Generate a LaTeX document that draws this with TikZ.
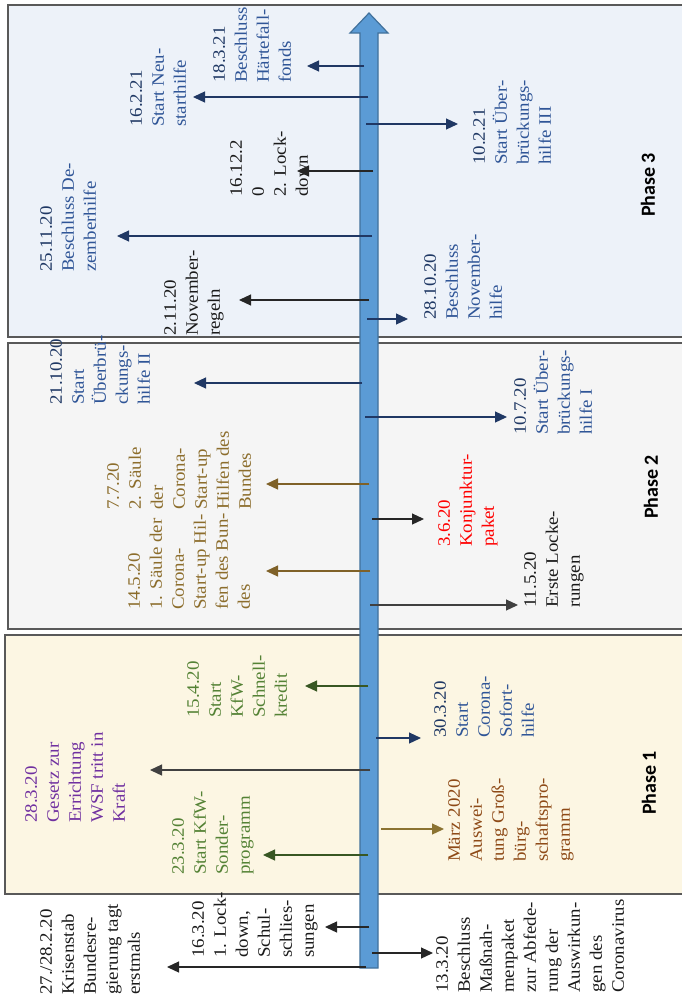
\documentclass[tikz,border=0pt]{standalone}
\usepackage{fontspec}
\setmainfont{Liberation Serif}[FakeStretch=1.08]
\newfontfamily\phasefont{Carlito}
\usetikzlibrary{arrows.meta}
\definecolor{navyarr}{HTML}{203864}
\definecolor{navydate}{HTML}{1F3864}
\definecolor{bluetxt}{HTML}{2F5597}
\definecolor{browntxt}{HTML}{8C6D2C}
\definecolor{brownarr}{HTML}{7F6128}
\definecolor{greentxt}{HTML}{548235}
\definecolor{greenarr}{HTML}{385723}
\definecolor{purpletxt}{HTML}{7030A0}
\definecolor{redtxt}{HTML}{FF0000}
\definecolor{orangetxt}{HTML}{8E4A17}
\definecolor{olivearr}{HTML}{8B7332}
\definecolor{blacktxt}{HTML}{1A1A1A}
\definecolor{blackarr}{HTML}{262626}
\definecolor{greyarr}{HTML}{404040}
\definecolor{axisfill}{HTML}{5B9BD5}
\definecolor{axisdraw}{HTML}{41719C}
\definecolor{boxdraw}{HTML}{595959}
\definecolor{fillthree}{HTML}{EDF2F9}
\definecolor{filltwo}{HTML}{F5F5F5}
\definecolor{fillone}{HTML}{FCF6E3}
\begin{document}
\begin{tikzpicture}[x=1pt,y=-1pt,
  lbl/.style={rotate=90, anchor=north west, inner sep=0pt, align=left,
    font=\fontsize{17.5}{22}\selectfont},
  phaselbl/.style={rotate=90, inner sep=0pt, font=\phasefont\bfseries\fontsize{20}{22}\selectfont, text=black},
  phasebox/.style={draw=boxdraw, line width=1.5pt},
  arr/.style={line width=1.2pt, -{Triangle[length=12pt,width=11pt]}},
  navyline/.style={arr, draw=navyarr, fill=navyarr},
  blackline/.style={arr, draw=blackarr, fill=blackarr},
  greyline/.style={arr, draw=greyarr, fill=greyarr},
  brownline/.style={arr, draw=brownarr, fill=brownarr},
  greenline/.style={arr, draw=greenarr, fill=greenarr},
  oliveline/.style={arr, draw=olivearr, fill=olivearr}]
\useasboundingbox (0,0) rectangle (682,999);

% phase boxes
\path[phasebox, fill=fillthree] (8,5) rectangle (700,337);
\path[phasebox, fill=filltwo] (8,343) rectangle (700,629);
\path[phasebox, fill=fillone] (5,635) rectangle (700,894);

% phase labels
\node[phaselbl] (ph3) at (648,185) {Phase 3};
\node[phaselbl] (ph2) at (651,487) {Phase 2};
\node[phaselbl] (ph1) at (649,783) {Phase 1};

% time axis
\draw[fill=axisfill, draw=axisdraw, line width=1.2pt, line join=miter]
  (360,968) -- (360,33) -- (350,33) -- (369,13) -- (388,33) -- (378,33) -- (378,968) -- cycle;

% text blocks
\node[lbl, text=bluetxt] (tA) at (213,83) {\textcolor{navydate}{18.3.21}\\Beschluss\\Härtefall-\\fonds};
\node[lbl, text=bluetxt] (tB) at (130,127) {\textcolor{navydate}{16.2.21}\\Start Neu-\\starthilfe};
\node[lbl, text=blacktxt] (tC) at (230,197) {16.12.2\\0\\2. Lock-\\down};
\node[lbl, text=bluetxt] (tD) at (40,272) {\textcolor{navydate}{25.11.20}\\Beschluss De-\\zemberhilfe};
\node[lbl, text=blacktxt] (tE) at (164,336) {2.11.20\\November-\\regeln};
\node[lbl, text=bluetxt] (tF) at (473,165) {\textcolor{navydate}{10.2.21}\\Start Über-\\brückungs-\\hilfe III};
\node[lbl, text=bluetxt] (tG) at (424,320) {\textcolor{navydate}{28.10.20}\\Beschluss\\November-\\hilfe};
\node[lbl, text=bluetxt] (tH) at (50,405) {\textcolor{navydate}{21.10.20}\\Start\\Überbrü-\\ckungs-\\hilfe II};
\node[lbl, text=browntxt] (tI) at (107,510) {7.7.20\\2. Säule\\der\\Corona-\\Start-up\\Hilfen des\\Bundes};
\node[lbl, text=browntxt] (tJ) at (128,610) {14.5.20\\1. Säule der\\Corona-\\Start-up Hil-\\fen des Bun-\\des};
\node[lbl, text=bluetxt] (tK) at (514,435) {\textcolor{navydate}{10.7.20}\\Start Über-\\brückungs-\\hilfe I};
\node[lbl, text=redtxt] (tL) at (438,547) {3.6.20\\Konjunktur-\\paket};
\node[lbl, text=blacktxt] (tM) at (524,608) {11.5.20\\Erste Locke-\\rungen};
\node[lbl, text=greentxt] (tN) at (187,718) {15.4.20\\Start\\KfW-\\Schnell-\\kredit};
\node[lbl, text=purpletxt] (tO) at (25,823) {28.3.20\\Gesetz zur\\Errichtung\\WSF tritt in\\Kraft};
\node[lbl, text=greentxt] (tP) at (172,875) {23.3.20\\Start KfW-\\Sonder-\\programm};
\node[lbl, text=blacktxt] (tQ) at (40,995) {27./28.2.20\\Krisenstab\\Bundesre-\\gierung tagt\\erstmals};
\node[lbl, text=blacktxt] (tR) at (192,958) {16.3.20\\1. Lock-\\down,\\Schul-\\schlies-\\sungen};
\node[lbl, text=bluetxt] (tS) at (434,738) {\textcolor{navydate}{30.3.20}\\Start\\Corona-\\Sofort-\\hilfe};
\node[lbl, text=orangetxt] (tT) at (448,862) {März 2020\\Auswei-\\tung Groß-\\bürg-\\schaftspro-\\gramm};
\node[lbl, text=blacktxt] (tU) at (436,993) {13.3.20\\Beschluss\\Maßnah-\\menpaket\\zur Abfede-\\rung der\\Auswirkun-\\gen des\\Coronavirus};

% connector end points
\coordinate (s1) at (364,66);   \coordinate (e1) at (307,66);
\coordinate (s2) at (368,97);   \coordinate (e2) at (193,97);
\coordinate (s3) at (366,124);  \coordinate (e3) at (458,124);
\coordinate (s4) at (373,171);  \coordinate (e4) at (297,171);
\coordinate (s5) at (372,236);  \coordinate (e5) at (117,236);
\coordinate (s6) at (369,300);  \coordinate (e6) at (239,300);
\coordinate (s7) at (367,319);  \coordinate (e7) at (408,319);
\coordinate (s8) at (362,383);  \coordinate (e8) at (194,383);
\coordinate (s9) at (369,484);  \coordinate (e9) at (266,484);
\coordinate (s10) at (372,519); \coordinate (e10) at (424,519);
\coordinate (s11) at (370,571); \coordinate (e11) at (266,571);
\coordinate (s12) at (370,605); \coordinate (e12) at (518,605);
\coordinate (s13) at (365,417); \coordinate (e13) at (507,417);
\coordinate (s14) at (368,686); \coordinate (e14) at (305,686);
\coordinate (s15) at (376,738); \coordinate (e15) at (421,738);
\coordinate (s16) at (370,770); \coordinate (e16) at (150,770);
\coordinate (s17) at (381,829); \coordinate (e17) at (444,829);
\coordinate (s18) at (368,855); \coordinate (e18) at (263,855);
\coordinate (s19) at (369,927); \coordinate (e19) at (325,927);
\coordinate (s20) at (366,967); \coordinate (e20) at (167,967);
\coordinate (s21) at (372,953); \coordinate (e21) at (433,953);

% connectors
\draw[navyline] (s1) -- (e1);
\draw[navyline] (s2) -- (e2);
\draw[navyline] (s3) -- (e3);
\draw[blackline] (s4) -- (e4);
\draw[navyline] (s5) -- (e5);
\draw[blackline] (s6) -- (e6);
\draw[navyline] (s7) -- (e7);
\draw[navyline] (s8) -- (e8);
\draw[brownline] (s9) -- (e9);
\draw[blackline] (s10) -- (e10);
\draw[brownline] (s11) -- (e11);
\draw[greyline] (s12) -- (e12);
\draw[navyline] (s13) -- (e13);
\draw[greenline] (s14) -- (e14);
\draw[navyline] (s15) -- (e15);
\draw[greyline] (s16) -- (e16);
\draw[oliveline] (s17) -- (e17);
\draw[greenline] (s18) -- (e18);
\draw[blackline] (s19) -- (e19);
\draw[blackline] (s20) -- (e20);
\draw[blackline] (s21) -- (e21);
\end{tikzpicture}
\end{document}
